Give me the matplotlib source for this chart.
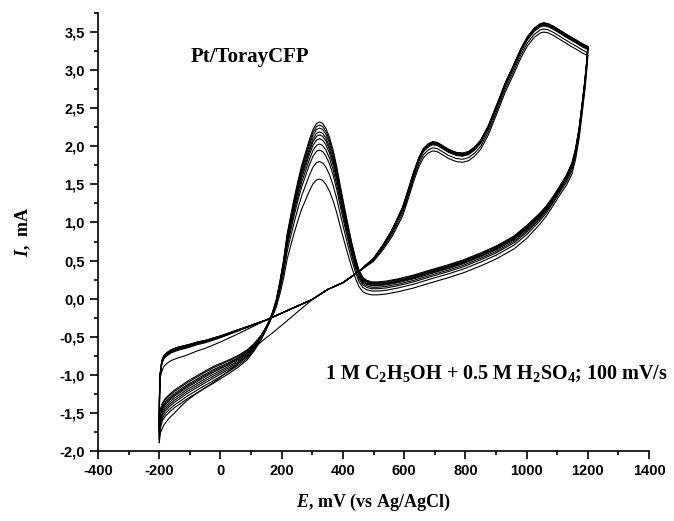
import numpy as np
import matplotlib
matplotlib.use("Agg")
import matplotlib.pyplot as plt
from matplotlib.ticker import MultipleLocator, FuncFormatter

plt.rcParams['mathtext.fontset'] = 'custom'
plt.rcParams['mathtext.rm'] = 'Liberation Serif:bold'
plt.rcParams['mathtext.bf'] = 'Liberation Serif:bold'
plt.rcParams['mathtext.it'] = 'Liberation Serif:italic:bold'

# ---- data (E in mV, I in mA) ----
# first half scan, 304 mV -> -200 mV
E_init = [304, 250, 200, 170, 141, 110, 88, 50, 0, -23, -50, -80, -110, -131, -150, -170, -185, -196, -200]
I_init = [0.0, -0.18, -0.35, -0.45, -0.54, -0.65, -0.74, -0.88, -1.03, -1.10, -1.17, -1.25, -1.34, -1.42,
          -1.50, -1.58, -1.66, -1.76, -1.89]

# anodic scan -200 -> 1200 mV (last cycle); first value replaced by the start current
E_fwd = [-200, -199, -197, -194, -190, -185, -175, -160, -140, -120, -100, -75, -50, -25, 0, 50, 100, 150,
         200, 250, 300, 350, 400, 450, 500, 530, 560, 595, 615, 631, 648, 663, 678, 693, 708, 725, 745, 770,
         791, 810, 830, 850, 875, 905, 930, 958, 980, 1003, 1025, 1045, 1056, 1070, 1090, 1110, 1134, 1160,
         1180, 1200]
I_fwd = [-1.59, -1.25, -1.00, -0.88, -0.80, -0.75, -0.71, -0.67, -0.64, -0.62, -0.60, -0.57, -0.55, -0.52,
         -0.49, -0.42, -0.35, -0.28, -0.19, -0.10, -0.01, 0.12, 0.21, 0.35, 0.53, 0.70, 0.90, 1.20, 1.45,
         1.66, 1.85, 1.97, 2.03, 2.06, 2.05, 2.01, 1.96, 1.92, 1.91, 1.93, 1.99, 2.08, 2.27, 2.57, 2.83,
         3.07, 3.27, 3.44, 3.55, 3.61, 3.62, 3.61, 3.57, 3.52, 3.46, 3.40, 3.35, 3.31]

# cathodic scan 1200 -> -200 mV (last cycle)
E_rev = [1200, 1196, 1190, 1182, 1172, 1160, 1148, 1130, 1110, 1088, 1065, 1040, 1000, 958, 900, 850, 794,
         740, 680, 631, 580, 540, 515, 495, 478, 465, 452, 440, 428, 416, 404, 392, 380, 368, 356, 344, 334,
         324, 314, 302, 290, 278, 266, 254, 242, 230, 218, 206, 194, 182, 170, 158, 145, 131, 110, 88, 60,
         30, 0, -23, -50, -80, -110, -131, -150, -165, -180, -190, -196, -200]
I_rev = [3.31, 3.10, 2.85, 2.58, 2.25, 1.97, 1.78, 1.62, 1.49, 1.35, 1.22, 1.11, 0.96, 0.82, 0.69, 0.60,
         0.51, 0.44, 0.37, 0.31, 0.26, 0.23, 0.22, 0.22, 0.24, 0.28, 0.38, 0.55, 0.75, 0.98, 1.22, 1.47,
         1.73, 1.95, 2.12, 2.24, 2.30, 2.32, 2.30, 2.22, 2.08, 1.92, 1.76, 1.56, 1.34, 1.10, 0.85, 0.50,
         0.22, -0.02, -0.18, -0.30, -0.40, -0.49, -0.59, -0.67, -0.74, -0.80, -0.85, -0.89, -0.95, -1.02,
         -1.09, -1.15, -1.20, -1.25, -1.31, -1.37, -1.45, -1.59]

# per cycle values
rev_peak = [1.57, 1.80, 1.95, 2.03, 2.10, 2.15, 2.19, 2.24, 2.28, 2.32]
rev_min = [0.05, 0.10, 0.13, 0.15, 0.17, 0.18, 0.19, 0.20, 0.21, 0.22]
hi_peak = [3.50, 3.54, 3.58, 3.59, 3.60, 3.60, 3.61, 3.61, 3.62, 3.62]
h_end = [-1.85, -1.81, -1.77, -1.74, -1.71, -1.68, -1.66, -1.64, -1.61, -1.59]
fwd_h = [-0.14, -0.04, -0.03, -0.02, -0.02, -0.01, -0.01, 0.0, 0.0, 0.0]

E_fwd = np.array(E_fwd, float)
I_fwd = np.array(I_fwd, float)
E_rev = np.array(E_rev, float)
I_rev = np.array(I_rev, float)

fig = plt.figure(figsize=(6.74, 5.21), dpi=100)
ax = fig.add_axes([0.1454, 0.1344, 0.8176, 0.8406])

# where each per-cycle value acts along the scan
w_ox_f = np.interp(E_fwd, [450, 600, 1200], [0, 1, 1])
w_h_f = np.interp(E_fwd, [-200, -192, -130, 50, 150], [0, 1, 1, 0.4, 0])
pk_b = np.interp(E_rev, [160, 480], [-0.30, 0.22])
w_pk = np.where((E_rev > 160) & (E_rev < 480), np.clip((I_rev - pk_b) / (2.32 - pk_b), 0, 1), 0)
w_base = np.interp(E_rev, [140, 200, 480, 1000, 1150, 1200], [0, 0.3, 1, 1, 0.5, 0])
w_ox_r = np.interp(E_rev, [1100, 1200], [0, 1])
w_h_r = np.interp(E_rev, [-200, -190, -23, 88, 170], [1, 0.9, 0.85, 0.5, 0])
apex = int(np.argmax(I_rev[20:])) + 20

kw = dict(color='black', lw=0.8)
ax.plot(E_init, I_init, **kw)

start = I_init[-1]
for c in range(len(rev_peak)):
    f = I_fwd.copy()
    f += w_ox_f * (hi_peak[c] - 3.62) + w_h_f * fwd_h[c]
    f[0] = start
    ax.plot(E_fwd, f, **kw)
    r = I_rev.copy()
    base_shift = w_base * (rev_min[c] - 0.22)
    r += base_shift + w_pk * (rev_peak[c] - 2.32 - base_shift[apex])
    r += w_ox_r * (hi_peak[c] - 3.62) + w_h_r * (h_end[c] + 1.59)
    ax.plot(E_rev, r, **kw)
    start = r[-1]

ax.set_xlim(-400, 1400)
ax.set_ylim(-2.0, 3.75)
ax.xaxis.set_major_locator(MultipleLocator(200))
ax.xaxis.set_minor_locator(MultipleLocator(100))
ax.yaxis.set_major_locator(MultipleLocator(0.5))
ax.yaxis.set_minor_locator(MultipleLocator(0.25))
ax.yaxis.set_major_formatter(FuncFormatter(lambda v, p: f"{v:.1f}".replace('.', ',')))
ax.xaxis.set_major_formatter(FuncFormatter(lambda v, p: f"{v:.0f}"))

for s in ['top', 'right']:
    ax.spines[s].set_visible(False)
for s in ['left', 'bottom']:
    ax.spines[s].set_linewidth(1.2)
ax.tick_params(which='major', direction='out', length=6, width=1.2)
ax.tick_params(which='minor', direction='out', length=3, width=1.2)
for lab in ax.get_xticklabels() + ax.get_yticklabels():
    lab.set_fontfamily('Liberation Sans')
    lab.set_fontweight('bold')
    lab.set_fontsize(10.5)

ax.set_xlabel(r'$\mathit{E}$, mV (vs Ag/AgCl)', family='Liberation Serif', weight='bold',
              fontsize=13, labelpad=10)
ax.set_ylabel(r'$\mathit{I}$,  mA', family='Liberation Serif', weight='bold', fontsize=13, labelpad=19)

ax.text(-98, 3.11, 'Pt/TorayCFP', family='Liberation Serif', weight='bold', fontsize=15,
        va='baseline')
ax.text(343, -1.06, r'1 M C$_2$H$_5$OH + 0.5 M H$_2$SO$_4$; 100 mV/s', family='Liberation Serif',
        weight='bold', fontsize=14.5, va='baseline')

fig.savefig('out.png', dpi=100)
